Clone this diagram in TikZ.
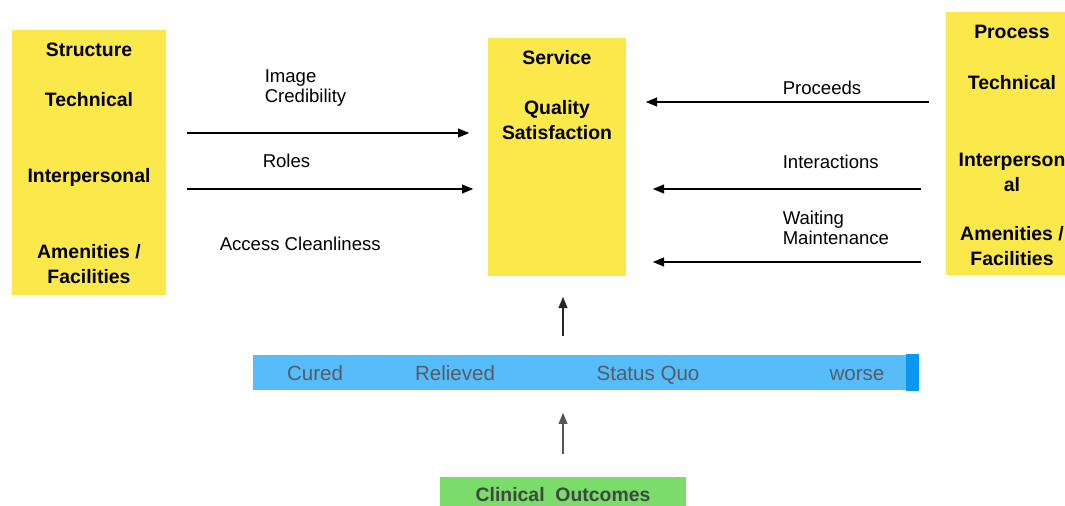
\documentclass[tikz,border=0pt]{standalone}
\usepackage{fontspec}
\setmainfont{Liberation Sans}
\usetikzlibrary{arrows.meta, calc}
\definecolor{cyellow}{HTML}{FBE84B}
\definecolor{cblue}{HTML}{56BDF9}
\definecolor{cdblue}{HTML}{0A97F2}
\definecolor{cgreen}{HTML}{7BDB6B}
\definecolor{cbartext}{HTML}{555B69}
\definecolor{cdgreen}{HTML}{3B4A3D}
\definecolor{cgrey}{HTML}{555555}
\tikzset{
  every picture/.style={line width=1.1pt},
  panel/.style={fill=#1, draw=none, inner sep=0pt},
  head/.style={font=\bfseries\fontsize{13.8}{17.8}\selectfont, align=center, inner sep=0pt},
  lbl/.style={font=\fontsize{13.2}{14.2}\selectfont, align=left, anchor=west, inner sep=0pt},
  bartxt/.style={font=\fontsize{14.6}{16}\selectfont, text=cbartext, inner sep=0pt, anchor=base},
  arrow/.style={-{Triangle[length=2.8mm, width=2.2mm]}, draw=black},
}
\begin{document}
\begin{tikzpicture}[x=0.025cm, y=-0.025cm]
  \clip (0,0) rectangle (1065,506);
  % the three yellow columns
  \node[panel=cyellow, minimum width=3.85cm, minimum height=6.625cm] (structure) at (89,162.5) {};
  \node[panel=cyellow, minimum width=3.45cm, minimum height=5.95cm] (service) at (557,157) {};
  \node[panel=cyellow, minimum width=3.3cm, minimum height=6.575cm] (process) at (1012,143.5) {};
  \node[head] (s1) at (89,50) {Structure};
  \node[head] (s2) at (89,100) {Technical};
  \node[head] (s3) at (89,177) {Interpersonal};
  \node[head] (s4) at (89,264.5) {Amenities /\\Facilities};
  \node[head] (q1) at (557,58) {Service};
  \node[head] (q2) at (557,120.5) {Quality\\Satisfaction};
  \node[head] (p1) at (1012,32) {Process};
  \node[head] (p2) at (1012,83) {Technical};
  \node[head] (p3) at (1012,172.5) {Interperson\\al};
  \node[head] (p4) at (1012,246.5) {Amenities /\\Facilities};
  % outcome scale and clinical box
  \node[panel=cblue, minimum width=16.625cm, minimum height=0.875cm] (outcomes) at (585.5,372.5) {};
  \fill[cdblue] ([xshift=-0.325cm]outcomes.north east) rectangle (outcomes.south east);
  \node[bartxt] (o1) at (315,380) {Cured};
  \node[bartxt] (o2) at (455,380) {Relieved};
  \node[bartxt] (o3) at (648,380) {Status Quo};
  \node[bartxt] (o4) at (857,380) {worse};
  \node[panel=cgreen, minimum width=6.15cm, minimum height=0.9cm, font=\bfseries\fontsize{13.8}{16}\selectfont, text=cdgreen] (clinical) at (563,495) {Clinical~~Outcomes};
  % arrow levels
  \coordinate (yimg) at (0,133);
  \coordinate (yrol) at (0,189);
  \coordinate (ypro) at (0,102);
  \coordinate (yint) at (0,189);
  \coordinate (ywai) at (0,262);
  \draw[arrow, shorten <=0.5cm, shorten >=0.45cm] (structure.east |- yimg) -- (service.west |- yimg);
  \draw[arrow, shorten <=0.5cm, shorten >=0.35cm] (structure.east |- yrol) -- (service.west |- yrol);
  \draw[arrow, shorten <=0.4cm, shorten >=0.475cm] (process.west |- ypro) -- (service.east |- ypro);
  \draw[arrow, shorten <=0.6cm, shorten >=0.65cm] (process.west |- yint) -- (service.east |- yint);
  \draw[arrow, shorten <=0.6cm, shorten >=0.65cm] (process.west |- ywai) -- (service.east |- ywai);
  \node[lbl] (l1) at (264,88) {Image\\Credibility};
  \node[lbl] (l2) at (262,161) {Roles};
  \node[lbl] (l3) at (219,244) {Access Cleanliness};
  \node[lbl] (r1) at (782,88) {Proceeds};
  \node[lbl] (r2) at (782,162) {Interactions};
  \node[lbl] (r3) at (782,227.5) {Waiting\\Maintenance};
  % upward arrows
  \draw[arrow, draw=black!85, shorten <=0.45cm, shorten >=0.5cm] (outcomes.north -| clinical.north) -- (service.south -| clinical.north);
  \draw[arrow, draw=cgrey, shorten <=0.55cm, shorten >=0.55cm] (clinical.north) -- (outcomes.south -| clinical.north);
\end{tikzpicture}
\end{document}
